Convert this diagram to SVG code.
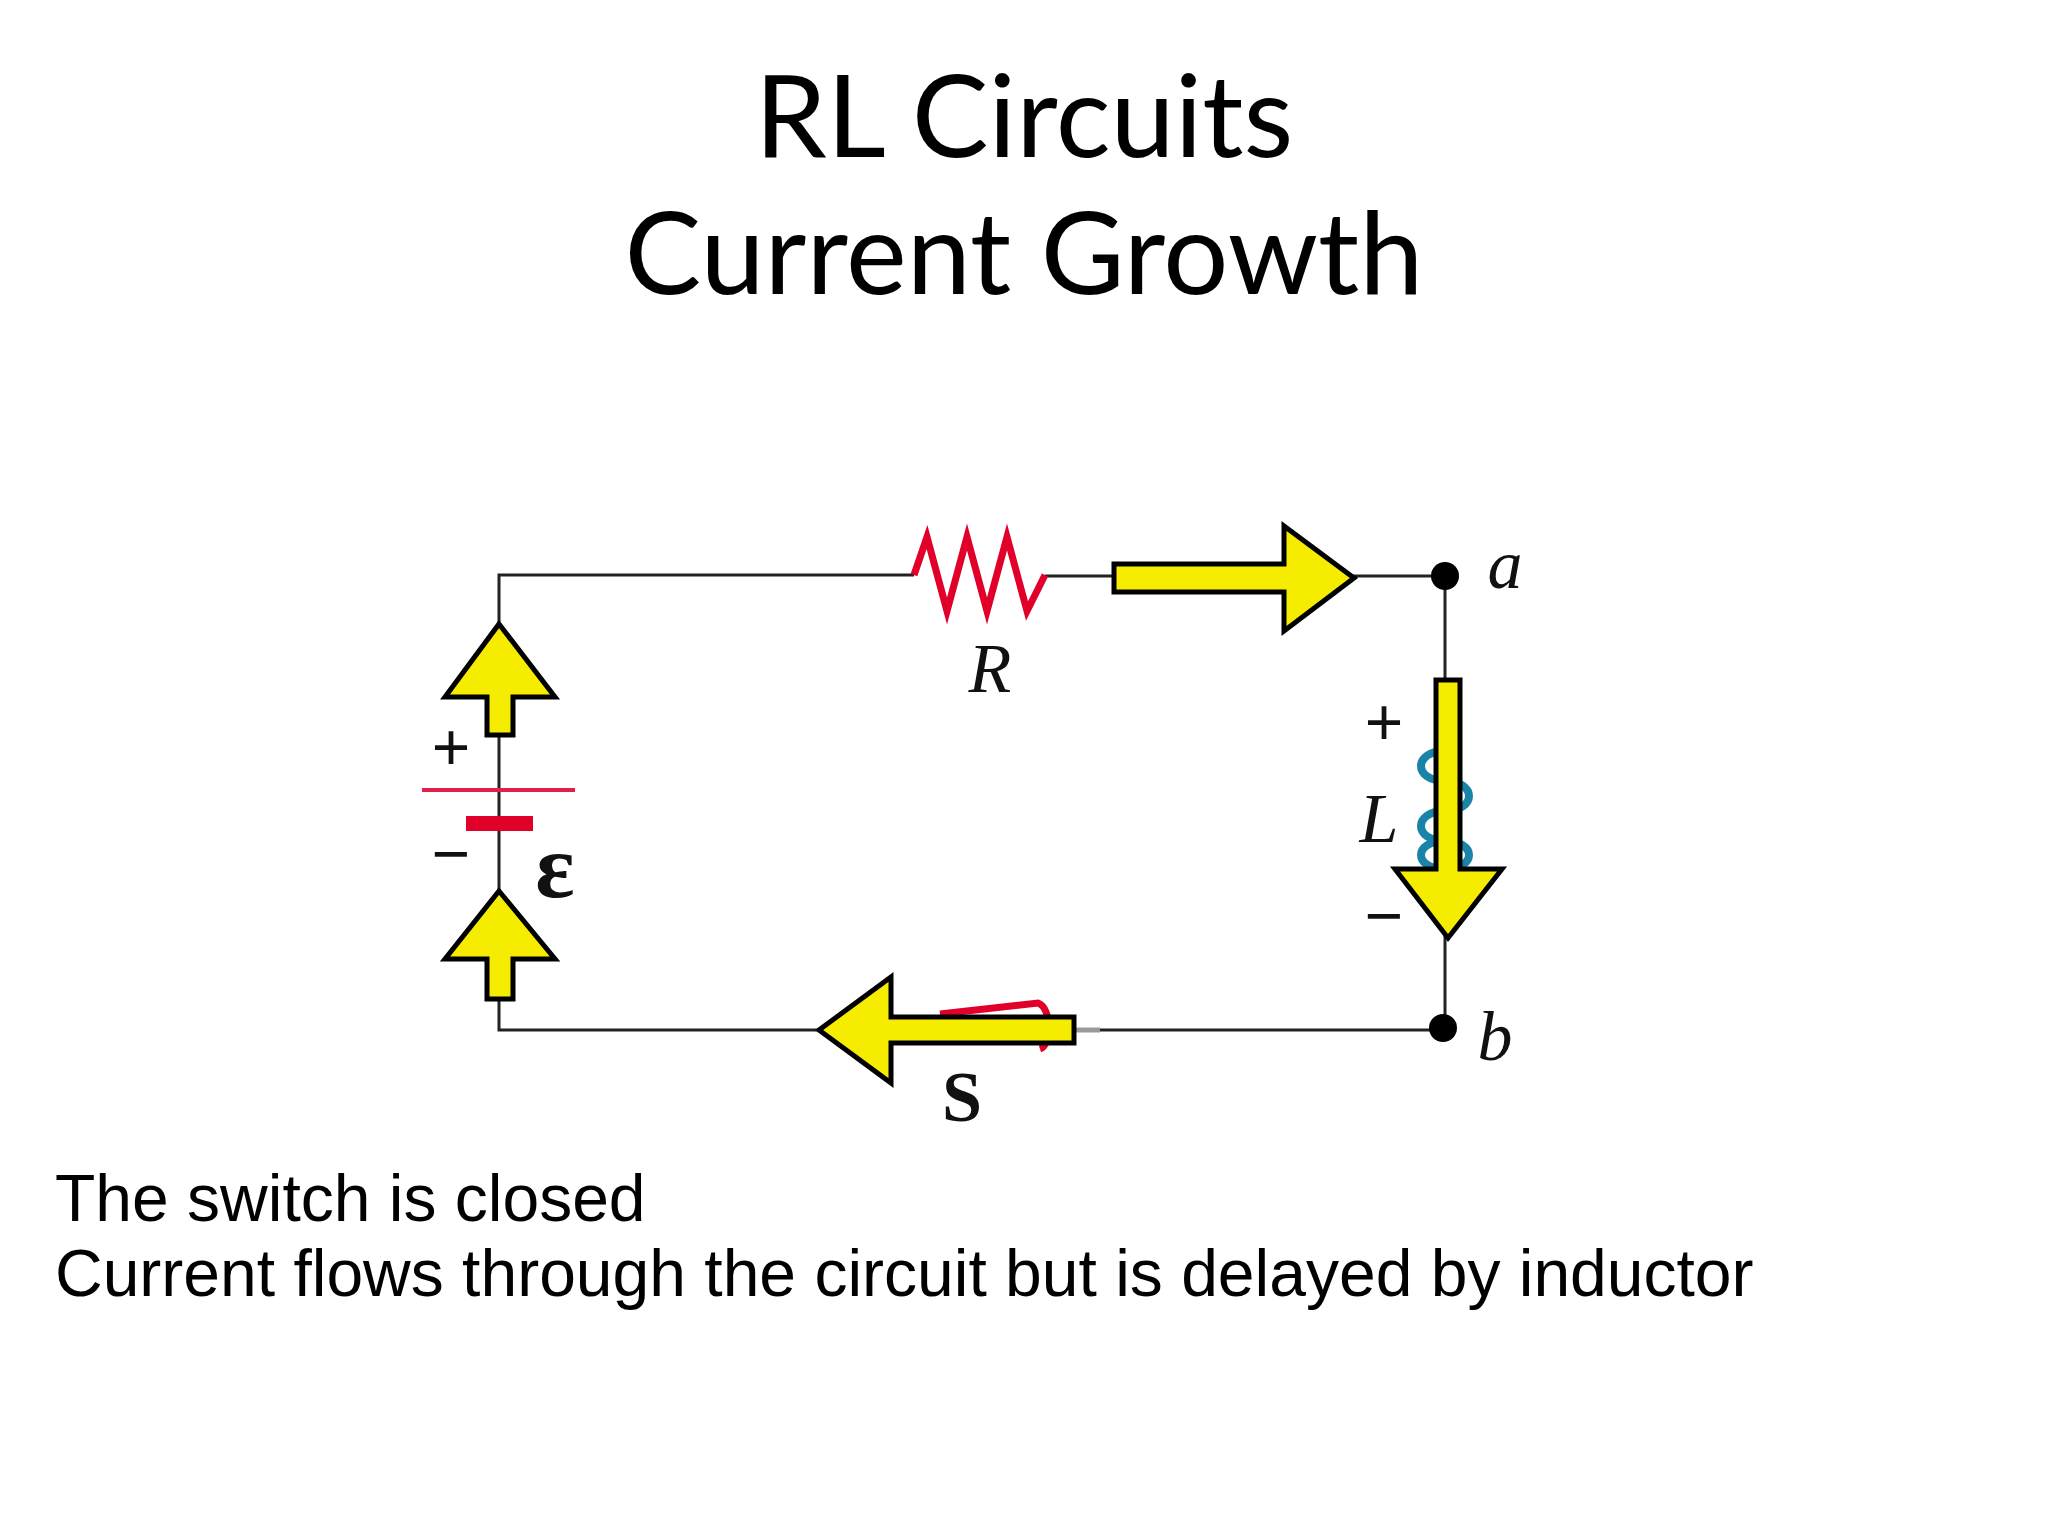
<svg xmlns="http://www.w3.org/2000/svg" width="2048" height="1536" viewBox="0 0 2048 1536">
<style>
.w{stroke:#222;stroke-width:3;fill:none}
.ar{fill:#f5ec00;stroke:#000;stroke-width:5;stroke-linejoin:miter}
.t{font-family:Lato,"Open Sans",sans-serif;font-size:115px;fill:#000;text-anchor:middle}
.lb{font-family:"Liberation Serif",serif;font-style:italic;font-size:70px;fill:#111;text-anchor:middle}
.s{font-family:"Liberation Sans",Arial,sans-serif;font-size:66px;fill:#111;text-anchor:middle}
.b{font-family:"Liberation Sans",Arial,sans-serif;font-size:66px;fill:#000}
</style>
<rect width="2048" height="1536" fill="#fff"/>
<g id="title">
<text class="t" x="1024" y="157">RL Circuits</text>
<text class="t" x="1024" y="294">Current Growth</text>
</g>
<g id="wires">
<polyline class="w" points="914,575 499,575 499,1030 1445,1030 1445,576 1045,576"/>
<line x1="1074" y1="1030" x2="1100" y2="1030" stroke="#999" stroke-width="5"/>
</g>
<g id="resistor">
<polyline points="914,575 927,537 947,611 967,537 987,611 1007,537 1027,611 1045,575" fill="none" stroke="#e0002a" stroke-width="7"/>
<text class="lb" x="990" y="692">R</text>
</g>
<g id="battery">
<line x1="422" y1="790" x2="575" y2="790" stroke="#e0204a" stroke-width="4"/>
<rect x="466" y="816" width="67" height="15" fill="#e0002a"/>
<text class="s" x="451" y="770">+</text>
<text class="s" x="451" y="876">−</text>
<text x="555" y="897" font-family="'Liberation Serif',serif" font-weight="bold" font-size="92" text-anchor="middle" fill="#111">ε</text>
</g>
<g id="inductor">
<path d="M1445,751 c-32,0 -32,30 0,30 c32,0 32,30 0,30 c-32,0 -32,30 0,30 c32,0 32,28 0,28 M1445,781 c32,0 32,30 0,30 M1445,841 c-32,0 -32,28 0,28" fill="none" stroke="#1a84a8" stroke-width="8"/>
<text class="s" x="1384" y="745">+</text>
<text class="lb" x="1379" y="842">L</text>
<text class="s" x="1384" y="938">−</text>
</g>
<g id="switch">
<path d="M940,1014 L1038,1003 C1052,1008 1052,1045 1040,1049" fill="none" stroke="#e0002a" stroke-width="7"/>
<text x="962" y="1121" font-family="'Liberation Serif',serif" font-weight="bold" font-size="72" text-anchor="middle" fill="#111">S</text>
</g>
<g id="nodes">
<circle cx="1445" cy="576" r="14" fill="#000"/>
<circle cx="1443" cy="1028" r="14" fill="#000"/>
<text class="lb" x="1505" y="588">a</text>
<text class="lb" x="1495" y="1060">b</text>
</g>
<g id="arrows">
<polygon class="ar" points="499,624 555,697 513,697 513,735 487,735 487,697 445,697"/>
<polygon class="ar" points="499,891 555,959 513,959 513,999 487,999 487,959 445,959"/>
<polygon class="ar" points="1354,578 1284,526 1284,564 1114,564 1114,592 1284,592 1284,631"/>
<polygon class="ar" points="1448,938 1502,869 1460,869 1460,680 1436,680 1436,869 1395,869"/>
<polygon class="ar" points="819,1030 891,977 891,1017 1074,1017 1074,1043 891,1043 891,1083"/>
</g>
<g id="caption">
<text class="b" x="55" y="1221">The switch is closed</text>
<text class="b" x="55" y="1296">Current flows through the circuit but is delayed by inductor</text>
</g>
</svg>
